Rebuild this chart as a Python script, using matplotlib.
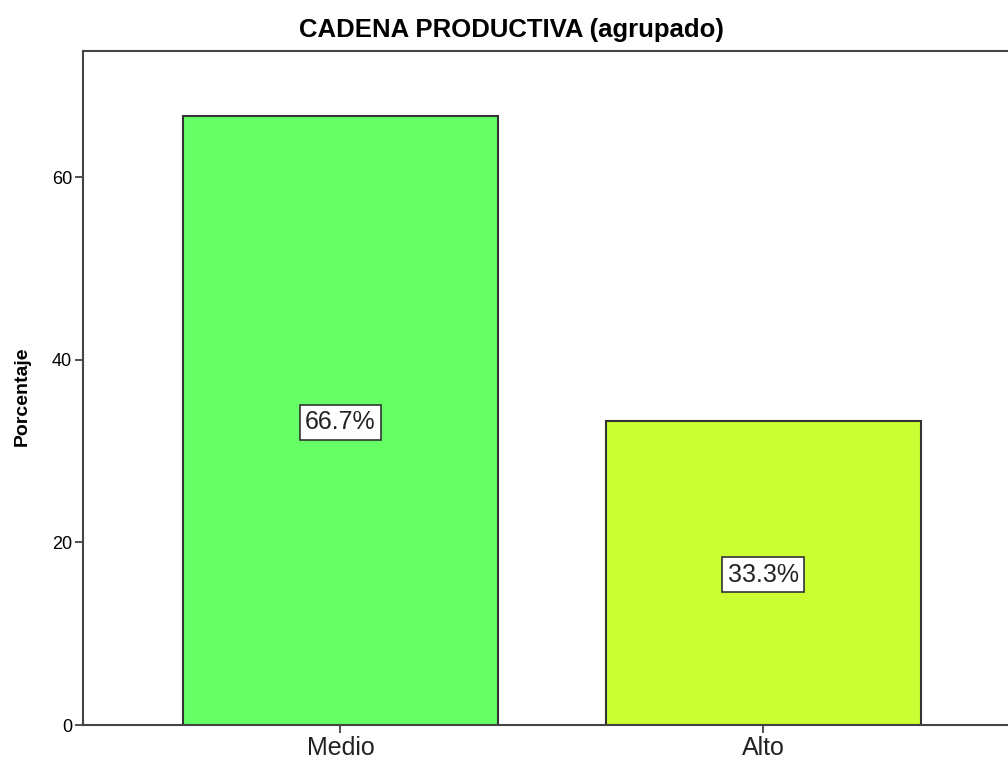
import matplotlib.pyplot as plt
import numpy as np

plt.rcParams['font.family'] = ['Liberation Sans', 'DejaVu Sans']

categorias = ['Medio', 'Alto']
porcentajes = [66.7, 33.3]
colores = ['#66ff66', '#ccff33']
yticks = [0, 20, 40, 60]

fig = plt.figure(figsize=(10.08, 7.65), dpi=100)
# eje ancho, se sale un poco por la derecha como en el original
ax = fig.add_axes([83 / 1008, 40 / 765, 937.5 / 1008, 674 / 765])

x = np.arange(len(categorias))
ax.bar(x, porcentajes, width=0.745, color=colores, edgecolor='#333333', linewidth=1.5, zorder=2)

for xi, v in zip(x, porcentajes):
    ax.text(xi, v / 2 - 0.2, f'{v:.1f}%', ha='center', va='center', fontsize=18, color='#222222',
            bbox=dict(boxstyle='square,pad=0.22', facecolor='white', edgecolor='#333333', linewidth=1.2),
            zorder=3)

ax.set_xlim(-0.609, 1.609)
ax.set_ylim(0, 73.8)
ax.set_xticks(x)
ax.set_xticklabels(categorias, fontsize=18, color='#222222')
ax.set_yticks(yticks)
ax.tick_params(axis='y', labelsize=13, length=6, width=1.2, color='#333333', pad=2)
ax.tick_params(axis='x', length=6, width=1.2, color='#333333', pad=2)

for s in ['left', 'bottom', 'top']:
    ax.spines[s].set_color('#444444')
    ax.spines[s].set_linewidth(1.5)
ax.spines['right'].set_visible(False)

fig.text(22 / 1008, 1 - 396 / 765, 'Porcentaje', rotation=90, ha='center', va='center',
         fontsize=14, fontweight='bold')
fig.text(511 / 1008, 1 - 30 / 765, 'CADENA PRODUCTIVA (agrupado)', ha='center', va='center',
         fontsize=18.5, fontweight='bold')

fig.savefig('out.png', dpi=100)
